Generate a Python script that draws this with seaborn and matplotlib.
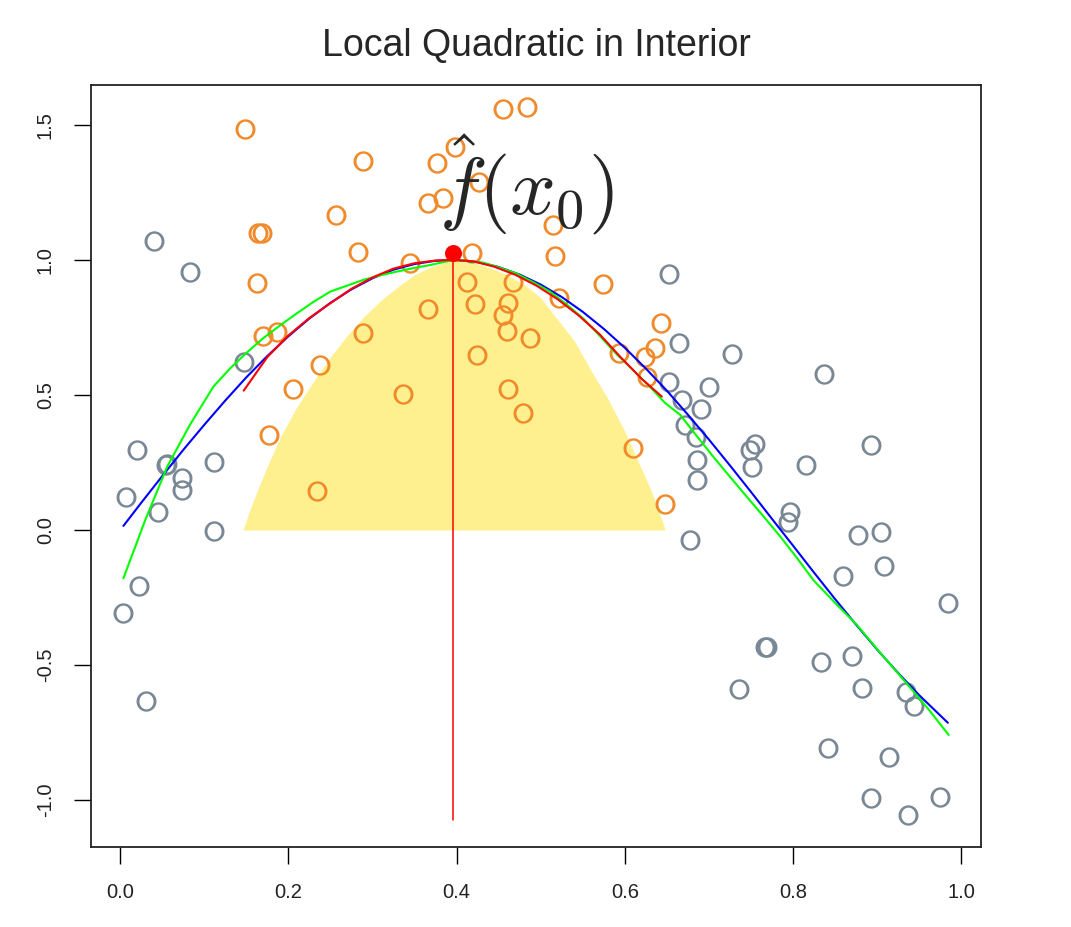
import numpy as np
import matplotlib
matplotlib.use("Agg")
import matplotlib.pyplot as plt
from matplotlib.path import Path
from matplotlib.markers import MarkerStyle
import seaborn as sns

# Observations outside the kernel window
out_x = [0.040, 0.083, 0.147, 0.020, 0.055, 0.056, 0.074, 0.074, 0.112, 0.007,
         0.045, 0.112, 0.023, 0.004, 0.031,
         0.653, 0.665, 0.727, 0.837, 0.700, 0.668, 0.691, 0.671, 0.685, 0.686,
         0.686, 0.749, 0.755, 0.751, 0.815, 0.893, 0.796, 0.794, 0.877, 0.905,
         0.677, 0.859, 0.908, 0.984, 0.767, 0.769, 0.833, 0.870, 0.736, 0.882,
         0.934, 0.944, 0.842, 0.914, 0.893, 0.975, 0.937, 0.652]
out_y = [1.070, 0.956, 0.622, 0.296, 0.241, 0.243, 0.193, 0.148, 0.252, 0.122,
         0.067, -0.004, -0.207, -0.307, -0.633,
         0.948, 0.693, 0.652, 0.578, 0.530, 0.481, 0.448, 0.389, 0.344, 0.259,
         0.185, 0.296, 0.319, 0.233, 0.241, 0.315, 0.067, 0.030, -0.019, -0.007,
         -0.037, -0.170, -0.133, -0.270, -0.433, -0.433, -0.489, -0.467, -0.589, -0.585,
         -0.600, -0.652, -0.807, -0.841, -0.993, -0.989, -1.056, 0.549]

# Observations inside the kernel window
in_x = [0.149, 0.289, 0.257, 0.164, 0.169, 0.283, 0.163, 0.170, 0.186, 0.289,
        0.238, 0.206, 0.177, 0.234, 0.336, 0.455, 0.484, 0.398, 0.377, 0.427,
        0.366, 0.384, 0.515, 0.517, 0.418, 0.345, 0.574, 0.412, 0.467, 0.366,
        0.422, 0.461, 0.455, 0.460, 0.522, 0.487, 0.424, 0.643, 0.593, 0.624,
        0.636, 0.461, 0.479, 0.610, 0.648, 0.626]
in_y = [1.485, 1.367, 1.167, 1.100, 1.100, 1.030, 0.915, 0.719, 0.734, 0.730,
        0.611, 0.522, 0.352, 0.144, 0.504, 1.559, 1.567, 1.419, 1.359, 1.289,
        1.211, 1.230, 1.130, 1.015, 1.026, 0.989, 0.911, 0.919, 0.919, 0.819,
        0.837, 0.841, 0.796, 0.737, 0.859, 0.711, 0.648, 0.767, 0.656, 0.641,
        0.674, 0.522, 0.433, 0.304, 0.096, 0.567]

# True regression function (blue)
true_x = [0.004, 0.025, 0.050, 0.075, 0.100, 0.125, 0.150, 0.175, 0.200, 0.225,
          0.250, 0.275, 0.300, 0.325, 0.350, 0.375, 0.400, 0.425, 0.450, 0.475,
          0.500, 0.525, 0.550, 0.575, 0.600, 0.625, 0.650, 0.675, 0.700, 0.725,
          0.750, 0.775, 0.800, 0.825, 0.850, 0.875, 0.900, 0.925, 0.950, 0.984]
true_y = [0.015, 0.100, 0.199, 0.296, 0.389, 0.479, 0.565, 0.644, 0.717, 0.783,
          0.841, 0.891, 0.932, 0.964, 0.985, 0.997, 1.000, 0.992, 0.974, 0.946,
          0.909, 0.863, 0.808, 0.745, 0.675, 0.598, 0.516, 0.427, 0.335, 0.239,
          0.141, 0.041, -0.058, -0.158, -0.256, -0.351, -0.443, -0.530, -0.612, -0.714]

# Local quadratic smooth over the whole range (green)
smooth_x = [0.004, 0.030, 0.056, 0.083, 0.111, 0.131, 0.150, 0.170, 0.190, 0.210,
            0.230, 0.250, 0.270, 0.289, 0.309, 0.329, 0.349, 0.368, 0.396, 0.413,
            0.432, 0.451, 0.471, 0.491, 0.511, 0.531, 0.551, 0.570, 0.590, 0.610,
            0.630, 0.648, 0.666, 0.685, 0.705, 0.725, 0.745, 0.765, 0.785, 0.805,
            0.824, 0.850, 0.876, 0.905, 0.935, 0.960, 0.985]
smooth_y = [-0.179, 0.037, 0.234, 0.389, 0.531, 0.599, 0.655, 0.710, 0.757, 0.802,
            0.845, 0.883, 0.905, 0.926, 0.943, 0.957, 0.970, 0.981, 1.000, 0.996,
            0.990, 0.972, 0.950, 0.918, 0.883, 0.835, 0.782, 0.720, 0.652, 0.592,
            0.530, 0.470, 0.426, 0.350, 0.272, 0.197, 0.123, 0.050, -0.025, -0.105,
            -0.185, -0.270, -0.352, -0.460, -0.568, -0.660, -0.759]

# Local quadratic fit at the target point, over its window (red)
local_x = [0.147, 0.175, 0.200, 0.225, 0.250, 0.275, 0.300, 0.325, 0.350, 0.375,
           0.396, 0.420, 0.445, 0.470, 0.495, 0.520, 0.545, 0.570, 0.595, 0.620,
           0.644]
local_y = [0.516, 0.640, 0.720, 0.785, 0.840, 0.893, 0.935, 0.968, 0.988, 0.998,
           1.000, 0.995, 0.975, 0.945, 0.905, 0.855, 0.795, 0.725, 0.640, 0.560,
           0.494]

# Epanechnikov kernel weights around the target point (yellow)
kern_x = [0.146, 0.155, 0.165, 0.175, 0.190, 0.210, 0.230, 0.250, 0.270, 0.290,
          0.310, 0.330, 0.350, 0.370, 0.396, 0.420, 0.440, 0.460, 0.480, 0.500,
          0.520, 0.540, 0.560, 0.580, 0.600, 0.615, 0.630, 0.640, 0.648]
kern_y = [0.000, 0.080, 0.160, 0.235, 0.340, 0.455, 0.550, 0.640, 0.720, 0.790,
          0.850, 0.900, 0.945, 0.975, 1.000, 0.990, 0.970, 0.945, 0.910, 0.860,
          0.780, 0.700, 0.590, 0.485, 0.365, 0.260, 0.155, 0.075, 0.000]

x0 = 0.396
fhat_x0 = 1.025
rule_bottom = -1.075


def letter_o_marker():
    """A hollow, letter-like 'O' ring (thicker at the sides) as a filled path."""
    t = np.linspace(0, 2 * np.pi, 64)
    outer = np.column_stack([0.49 * np.cos(t), 0.50 * np.sin(t)])
    inner = np.column_stack([0.345 * np.cos(t[::-1]), 0.385 * np.sin(t[::-1])])
    verts = np.vstack([outer, inner])
    codes = ([Path.MOVETO] + [Path.LINETO] * (len(t) - 2) + [Path.CLOSEPOLY]) * 2
    return MarkerStyle(Path(verts, codes))


sns.set_style("white")
plt.rcParams["font.family"] = ["Liberation Sans", "DejaVu Sans"]
plt.rcParams["axes.unicode_minus"] = False

fig = plt.figure(figsize=(10.71, 9.27), dpi=100)
ax = fig.add_axes([91 / 1071, 1 - 847 / 927, 890 / 1071, 762 / 927])

gray = "#7A8896"
orange = "#F08A2A"
marker_o = letter_o_marker()

ax.fill_between(kern_x, 0, kern_y, color="#FEF08E", linewidth=0, zorder=1)

sns.scatterplot(x=out_x, y=out_y, marker=marker_o, s=215, color=gray,
                linewidth=0, ax=ax, zorder=2)
sns.scatterplot(x=in_x, y=in_y, marker=marker_o, s=215, color=orange,
                linewidth=0, ax=ax, zorder=2)

sns.lineplot(x=true_x, y=true_y, color="#0000FF", linewidth=1.5, sort=False,
             estimator=None, ax=ax, zorder=3)
sns.lineplot(x=smooth_x, y=smooth_y, color="#00FF00", linewidth=1.5, sort=False,
             estimator=None, ax=ax, zorder=3)
sns.lineplot(x=local_x, y=local_y, color="#FF0000", linewidth=1.5, sort=False,
             estimator=None, ax=ax, zorder=4)

ax.plot([x0, x0], [rule_bottom, fhat_x0], color="#FF0000", linewidth=1.1, zorder=4)
sns.scatterplot(x=[x0], y=[fhat_x0], color="#FF0000", s=150, linewidth=0,
                ax=ax, zorder=5)

ax.text(0.484, 1.167, r"$\hat{f}(x_0)$", fontsize=58, math_fontfamily="cm",
        ha="center", va="baseline", zorder=6)

ax.set_xlim(-0.0345, 1.0234)
ax.set_ylim(-1.174, 1.648)

xticks = [0.0, 0.2, 0.4, 0.6, 0.8, 1.0]
yticks = [-1.0, -0.5, 0.0, 0.5, 1.0, 1.5]
ax.set_xticks(xticks)
ax.set_xticklabels([f"{v:.1f}" for v in xticks])
ax.set_yticks(yticks)
ax.set_yticklabels([f"{v:.1f}" for v in yticks], rotation=90, va="center")

ax.tick_params(axis="both", direction="out", length=12, width=1.0,
               labelsize=14.5, color="black", labelcolor="#222222",
               left=True, bottom=True)
ax.tick_params(axis="x", pad=14)
ax.tick_params(axis="y", pad=14)

for side in ["left", "right", "top", "bottom"]:
    ax.spines[side].set_visible(True)
    ax.spines[side].set_color("#222222")
    ax.spines[side].set_linewidth(1.3)

ax.set_xlabel("")
ax.set_ylabel("")
ax.set_title("Local Quadratic in Interior", fontsize=27, pad=21)

fig.savefig("out.png", dpi=100, facecolor="white")
